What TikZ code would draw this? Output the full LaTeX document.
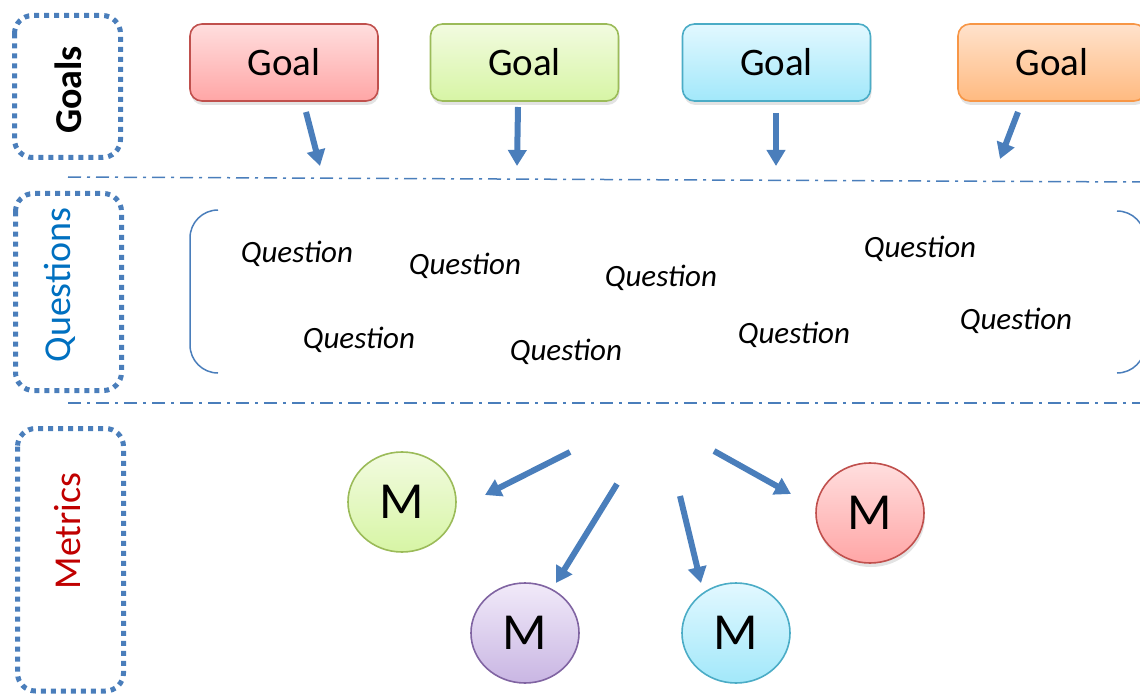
\documentclass[tikz,border=0pt]{standalone}
\usepackage{fontspec}
\setmainfont{Carlito}
\usetikzlibrary{arrows.meta, shapes.geometric, shadows, positioning}

\definecolor{gqmblue}{RGB}{74,126,187}
\definecolor{qlabel}{RGB}{0,112,192}
\definecolor{mlabel}{RGB}{192,0,0}
% fill / border colours of goals and metrics
\definecolor{redtop}{RGB}{255,222,222}
\definecolor{redbot}{RGB}{255,166,166}
\definecolor{redline}{RGB}{192,80,77}
\definecolor{greentop}{RGB}{242,251,224}
\definecolor{greenbot}{RGB}{215,245,165}
\definecolor{greenline}{RGB}{155,187,89}
\definecolor{cyantop}{RGB}{226,248,255}
\definecolor{cyanbot}{RGB}{162,232,250}
\definecolor{cyanline}{RGB}{75,172,198}
\definecolor{orangetop}{RGB}{255,226,204}
\definecolor{orangebot}{RGB}{255,186,128}
\definecolor{orangeline}{RGB}{247,150,70}
\definecolor{purpletop}{RGB}{241,234,249}
\definecolor{purplebot}{RGB}{201,182,227}
\definecolor{purpleline}{RGB}{128,100,162}

\begin{document}
\begin{tikzpicture}[
        x=1pt, y=-1pt,
        goal node/.style={
            rectangle,
            rounded corners=12pt,
            draw,
            line width=1.6pt,
            minimum width=188pt,
            minimum height=77pt,
            text centered,
            font=\fontsize{39}{45}\selectfont,
            drop shadow={opacity=0.22, shadow xshift=1pt, shadow yshift=-4pt}
        },
        metric node/.style={
            ellipse,
            draw,
            line width=1.6pt,
            inner sep=0pt,
            minimum width=108pt,
            minimum height=100pt,
            font=\fontsize{52}{60}\selectfont
        },
        question/.style={
            anchor=base,
            font=\itshape\fontsize{31}{37}\selectfont
        },
        layer label/.style={
            rotate=90,
            font=\fontsize{38}{44}\selectfont
        },
        layer box/.style={
            draw=gqmblue,
            line width=5pt,
            dash pattern=on 5pt off 5pt,
            rounded corners=18pt
        },
        layer_sep/.style={
            draw=gqmblue,
            line width=1.5pt,
            dash pattern=on 13pt off 6pt on 3pt off 6pt
        },
        flow_arrow/.style={
            draw=gqmblue,
            line width=6pt,
            -{Triangle[length=16pt, width=18pt]}
        }
    ]
        \useasboundingbox (0,0) rectangle (1140,695);

        % --- LAYER BOXES AND LABELS ---
        \draw[layer box] (14.5,15.5) rectangle (120.5,157.5);
        \draw[layer box] (15.5,193.5) rectangle (121.5,390.5);
        \draw[layer box] (17.5,428.5) rectangle (123.5,691);
        \node[layer label, font=\bfseries\fontsize{38}{44}\selectfont] (lGoals) at (68,90) {Goals};
        \node[layer label, text=qlabel] (lQuestions) at (60,285) {Questions};
        \node[layer label, text=mlabel] (lMetrics) at (68,531) {Metrics};

        % --- SEPARATORS ---
        \draw[layer_sep] (68,177) -- (1140,182);
        \draw[layer_sep] (68,403) -- (1140,403);

        % --- GOALS ---
        \node[goal node, draw=redline, top color=redtop, bottom color=redbot] (gRed) at (284,62.5) {Goal};
        \node[goal node, draw=greenline, top color=greentop, bottom color=greenbot] (gGreen) at (524.5,62.5) {Goal};
        \node[goal node, draw=cyanline, top color=cyantop, bottom color=cyanbot] (gCyan) at (776.5,62.5) {Goal};
        \node[goal node, draw=orangeline, top color=orangetop, bottom color=orangebot] (gOrange) at (1052,62.5) {Goal};

        % goal arrows end on the question layer
        \coordinate (gRedA) at (306,112);
        \coordinate (gRedB) at (320,166);
        \coordinate (gGreenA) at (518,107);
        \coordinate (gGreenB) at (517,166);
        \coordinate (gCyanA) at (776,113);
        \coordinate (gCyanB) at (776,166);
        \coordinate (gOrangeA) at (1018,112);
        \coordinate (gOrangeB) at (1000,159);
        \draw[flow_arrow] (gRedA) -- (gRedB);
        \draw[flow_arrow] (gGreenA) -- (gGreenB);
        \draw[flow_arrow] (gCyanA) -- (gCyanB);
        \draw[flow_arrow] (gOrangeA) -- (gOrangeB);

        % --- QUESTIONS ---
        \draw[gqmblue, line width=1.5pt, rounded corners=28pt] (218,210) -- (190,210) -- (190,373) -- (218,373);
        \draw[gqmblue, line width=1.5pt, rounded corners=28pt] (1117,211) -- (1145,211) -- (1145,373) -- (1117,373);
        \node[question] (q1) at (297,262) {Question};
        \node[question] (q2) at (465,274) {Question};
        \node[question] (q3) at (359,348) {Question};
        \node[question] (q4) at (566,360) {Question};
        \node[question] (q5) at (661,286) {Question};
        \node[question] (q6) at (920,257) {Question};
        \node[question] (q7) at (794,343) {Question};
        \node[question] (q8) at (1016,329) {Question};

        % --- METRICS ---
        \node[metric node, draw=greenline, top color=greentop, bottom color=greenbot] (mGreen) at (402,502) {M};
        \node[metric node, draw=purpleline, top color=purpletop, bottom color=purplebot] (mPurple) at (525,633) {M};
        \node[metric node, draw=cyanline, top color=cyantop, bottom color=cyanbot] (mCyan) at (736,633) {M};
        \node[metric node, draw=redline, top color=redtop, bottom color=redbot,
            drop shadow={opacity=0.22, shadow xshift=1pt, shadow yshift=-4pt}] (mRed) at (870,513) {M};

        % metric arrows
        \coordinate (mGreenA) at (570,452);
        \coordinate (mGreenB) at (485,495);
        \coordinate (mPurpleA) at (617,484);
        \coordinate (mPurpleB) at (556,583);
        \coordinate (mCyanA) at (680,496);
        \coordinate (mCyanB) at (701,583);
        \coordinate (mRedA) at (714,451);
        \coordinate (mRedB) at (791,494);
        \draw[flow_arrow] (mGreenA) -- (mGreenB);
        \draw[flow_arrow] (mPurpleA) -- (mPurpleB);
        \draw[flow_arrow] (mCyanA) -- (mCyanB);
        \draw[flow_arrow] (mRedA) -- (mRedB);

    \end{tikzpicture}
\end{document}
